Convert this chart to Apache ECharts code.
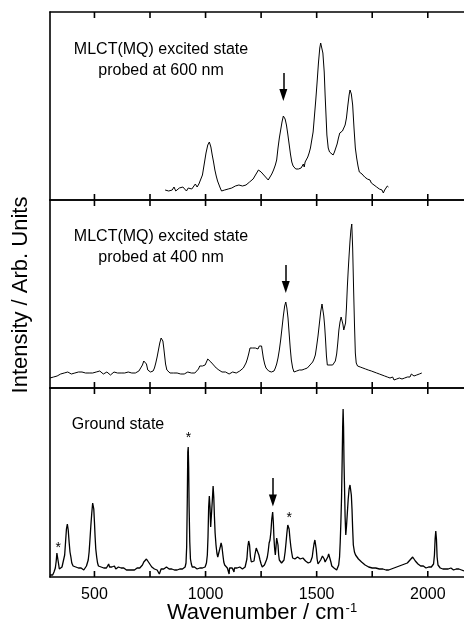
<!DOCTYPE html>
<html>
<head>
<meta charset="utf-8">
<script src="https://cdn.jsdelivr.net/npm/echarts@6/dist/echarts.min.js"></script>
<style>
html,body{margin:0;padding:0;background:#fff;}
#c{width:464px;height:633px;}
</style>
</head>
<body>
<div id="c"></div>
<script>
// ---- data ----
const xTicks = [500, 750, 1000, 1250, 1500, 1750, 2000];
const xLabels = [500, 1000, 1500, 2000];
const panelTexts = [["MLCT(MQ) excited state", "probed at 600 nm"], ["MLCT(MQ) excited state", "probed at 400 nm"], ["Ground state"]];
const xTitle = "Wavenumber / cm";
const yTitle = "Intensity / Arb. Units";

const probe600 = [
[818,10],[826,12],[834,9],[842,11],[850,10],[858,13],[866,9],[874,11],[882,12],[890,10],[898,13],[906,11],[914,9],[922,12],[930,14],[938,11],[946,13],[954,16],[962,13],[970,16],[978,18],[986,25],[994,36],[1002,47],[1010,55],[1017,58],[1024,53],[1030,45],[1036,38],[1042,30],[1048,24],[1054,19],[1060,17],[1066,12],[1072,9],[1078,8],[1086,10],[1094,9],[1102,11],[1110,10],[1118,12],[1126,11],[1134,14],[1142,12],[1150,15],[1158,16],[1166,14],[1174,16],[1182,15],[1190,17],[1198,18],[1206,19],[1214,21],[1222,24],[1230,27],[1238,30],[1244,31],[1250,28],[1258,26],[1266,24],[1274,22],[1282,20],[1290,22],[1298,26],[1306,30],[1314,35],[1320,40],[1326,52],[1332,62],[1338,70],[1344,78],[1350,84],[1354,85],[1358,81],[1364,75],[1370,66],[1376,56],[1382,46],[1388,38],[1394,34],[1400,32],[1406,31],[1412,30],[1418,31],[1424,33],[1430,32],[1436,34],[1440,36],[1444,33],[1448,38],[1454,40],[1460,43],[1466,47],[1472,52],[1478,60],[1484,68],[1490,84],[1496,100],[1502,118],[1508,137],[1514,152],[1518,157],[1522,155],[1528,147],[1534,128],[1538,105],[1542,85],[1546,65],[1552,52],[1558,48],[1566,46],[1574,45],[1580,48],[1586,52],[1592,56],[1598,62],[1604,67],[1610,68],[1616,69],[1622,71],[1628,75],[1634,82],[1640,94],[1646,105],[1650,110],[1656,106],[1662,95],[1668,72],[1674,52],[1680,42],[1686,34],[1692,28],[1698,27],[1704,26],[1710,27],[1716,23],[1722,24],[1728,21],[1734,20],[1740,20],[1746,17],[1752,17],[1758,15],[1764,16],[1770,13],[1776,13],[1782,11],[1788,11],[1794,10],[1800,7],[1806,10],[1812,11],[1818,14],[1823,13]
];

const probe400 = [
[300,10],[308,12],[316,11],[324,13],[332,12],[340,13],[348,14],[356,13],[364,15],[372,14],[380,16],[388,15],[396,14],[404,16],[412,15],[420,17],[428,16],[436,15],[444,16],[452,14],[460,15],[468,16],[476,15],[484,17],[492,15],[500,14],[508,16],[516,15],[524,17],[532,16],[540,14],[548,15],[556,16],[564,14],[572,13],[580,15],[588,16],[596,14],[604,15],[612,16],[620,15],[628,13],[636,15],[644,14],[652,16],[660,14],[668,15],[676,16],[684,15],[692,16],[700,17],[708,19],[716,23],[722,27],[728,28],[734,24],[740,18],[746,16],[752,16],[758,15],[764,17],[770,20],[776,25],[782,31],[788,38],[794,45],[800,50],[804,51],[808,47],[812,40],[816,32],[820,24],[826,18],[832,16],[840,15],[848,16],[856,15],[864,14],[872,15],[880,16],[888,14],[896,15],[904,14],[912,15],[920,16],[928,14],[936,15],[944,16],[952,15],[960,17],[968,19],[974,22],[980,24],[986,22],[992,21],[998,23],[1004,26],[1010,29],[1014,30],[1018,28],[1024,26],[1030,24],[1036,23],[1042,22],[1048,20],[1054,19],[1060,18],[1066,17],[1074,16],[1082,15],[1090,16],[1098,15],[1106,14],[1114,15],[1122,16],[1130,14],[1138,15],[1146,16],[1154,17],[1162,18],[1170,20],[1176,22],[1182,25],[1188,29],[1194,34],[1200,40],[1206,42],[1212,40],[1218,39],[1224,40],[1230,38],[1236,39],[1242,42],[1248,44],[1252,42],[1256,36],[1260,30],[1266,24],[1272,20],[1278,18],[1284,17],[1290,18],[1296,16],[1302,15],[1308,17],[1314,20],[1320,24],[1326,30],[1332,38],[1338,48],[1344,60],[1350,72],[1356,82],[1361,86],[1366,80],[1371,70],[1376,55],[1381,40],[1386,28],[1392,20],[1398,16],[1404,15],[1410,17],[1416,16],[1422,18],[1428,19],[1434,18],[1440,20],[1446,19],[1452,21],[1458,20],[1464,22],[1470,23],[1476,25],[1482,26],[1488,29],[1494,33],[1500,42],[1506,52],[1512,64],[1518,76],[1524,84],[1528,82],[1532,72],[1536,62],[1540,48],[1544,32],[1548,23],[1554,22],[1560,23],[1566,22],[1572,23],[1578,24],[1584,27],[1590,34],[1595,45],[1600,58],[1605,66],[1610,71],[1614,70],[1618,64],[1622,58],[1626,56],[1630,65],[1634,80],[1638,101],[1642,118],[1646,133],[1650,147],[1654,158],[1658,164],[1662,140],[1666,101],[1670,65],[1674,35],[1678,25],[1684,22],[1690,20],[1696,21],[1702,19],[1708,20],[1714,18],[1720,19],[1726,17],[1732,18],[1740,16],[1746,17],[1752,15],[1758,16],[1764,14],[1770,15],[1776,13],[1782,14],[1788,12],[1794,13],[1800,11],[1806,12],[1812,10],[1818,11],[1824,12],[1830,10],[1836,9],[1842,11],[1848,8],[1854,10],[1860,9],[1866,11],[1872,10],[1878,12],[1884,9],[1890,11],[1896,10],[1902,12],[1908,11],[1914,13],[1920,11],[1926,14],[1932,13],[1938,12],[1944,14],[1950,13],[1956,15],[1962,14],[1968,16],[1973,15]
];

const ground = [
[300,2],[306,3],[312,2],[318,5],[324,9],[328,16],[331,24],[334,22],[338,14],[342,8],[346,7],[350,9],[354,10],[360,12],[366,22],[370,35],[374,48],[378,53],[382,47],[386,35],[390,25],[394,20],[398,14],[404,11],[410,9],[416,10],[422,8],[428,9],[434,7],[440,9],[446,8],[452,7],[458,9],[464,11],[468,13],[472,17],[476,25],[480,38],[484,52],[488,64],[492,74],[494,75],[497,68],[500,55],[503,40],[506,28],[510,20],[514,14],[518,11],[524,9],[530,10],[536,8],[542,9],[548,7],[554,9],[560,11],[564,13],[568,10],[572,8],[578,10],[584,9],[590,11],[596,8],[602,9],[608,10],[614,8],[620,9],[626,7],[632,9],[638,8],[644,7],[650,8],[656,7],[662,9],[668,7],[674,8],[680,7],[686,8],[692,9],[698,8],[704,9],[710,10],[716,12],[722,15],[728,17],[734,18],[740,17],[746,14],[752,12],[758,10],[764,9],[770,8],[776,9],[782,7],[788,6],[792,3],[796,5],[800,8],[806,9],[812,8],[818,9],[824,10],[830,9],[836,8],[842,10],[848,8],[854,9],[860,7],[866,8],[872,7],[878,9],[884,8],[890,9],[896,8],[902,9],[908,10],[912,14],[915,30],[918,80],[920,125],[922,130],[924,110],[926,70],[929,35],[932,18],[936,13],[940,10],[945,9],[950,10],[956,9],[962,8],[968,10],[974,9],[980,8],[986,9],[992,8],[998,10],[1004,14],[1008,22],[1011,40],[1014,70],[1017,81],[1020,70],[1023,50],[1026,48],[1030,75],[1034,91],[1037,80],[1040,60],[1043,44],[1047,32],[1051,24],[1055,20],[1060,22],[1066,30],[1070,34],[1074,30],[1078,22],[1082,15],[1086,12],[1092,10],[1098,9],[1102,8],[1106,3],[1108,9],[1114,8],[1120,9],[1124,10],[1128,5],[1130,9],[1136,8],[1142,9],[1148,8],[1154,10],[1160,9],[1166,8],[1172,9],[1178,10],[1182,12],[1186,18],[1190,30],[1194,36],[1198,32],[1202,20],[1206,15],[1210,14],[1214,13],[1218,16],[1222,22],[1228,29],[1232,31],[1236,28],[1240,22],[1245,17],[1250,13],[1255,10],[1260,10],[1265,12],[1270,14],[1274,17],[1278,20],[1282,26],[1286,34],[1290,37],[1294,45],[1298,58],[1302,65],[1305,55],[1308,38],[1311,28],[1314,22],[1317,30],[1320,39],[1323,40],[1326,32],[1329,22],[1332,17],[1336,15],[1342,14],[1348,15],[1353,17],[1358,25],[1362,34],[1366,44],[1370,52],[1373,54],[1376,48],[1380,38],[1384,30],[1388,24],[1392,19],[1396,17],[1402,18],[1408,19],[1414,20],[1420,19],[1426,18],[1432,19],[1438,19],[1444,17],[1450,16],[1456,15],[1462,14],[1468,13],[1472,15],[1476,17],[1480,20],[1484,27],[1488,33],[1492,37],[1495,36],[1498,28],[1502,18],[1506,13],[1510,12],[1514,14],[1518,17],[1522,19],[1526,21],[1530,22],[1534,18],[1538,15],[1542,14],[1546,16],[1550,20],[1554,23],[1557,24],[1560,21],[1564,15],[1568,11],[1573,10],[1578,9],[1584,8],[1590,7],[1595,8],[1599,12],[1603,20],[1606,35],[1609,55],[1612,80],[1615,120],[1617,150],[1619,168],[1621,150],[1623,115],[1625,94],[1628,60],[1631,42],[1634,50],[1638,64],[1642,78],[1646,88],[1650,92],[1653,90],[1656,82],[1659,68],[1662,48],[1665,32],[1670,25],[1675,22],[1681,20],[1688,18],[1695,16],[1702,15],[1710,14],[1718,12],[1726,11],[1734,10],[1742,10],[1750,9],[1758,8],[1766,9],[1774,7],[1782,8],[1790,7],[1798,8],[1806,6],[1812,7],[1818,5],[1824,7],[1830,6],[1836,8],[1842,7],[1848,9],[1854,8],[1860,10],[1866,9],[1872,11],[1878,10],[1884,12],[1890,11],[1896,13],[1902,12],[1908,14],[1914,15],[1920,17],[1926,19],[1932,20],[1938,18],[1944,16],[1950,14],[1956,13],[1962,12],[1968,11],[1974,10],[1980,11],[1986,10],[1992,9],[1998,9],[2004,10],[2010,9],[2016,10],[2022,11],[2026,13],[2030,22],[2033,38],[2036,46],[2039,38],[2042,20],[2046,12],[2050,10],[2056,9],[2062,10],[2068,8],[2074,9],[2080,8],[2086,9],[2092,8],[2098,7],[2104,9],[2110,8],[2116,7],[2122,9],[2128,8],[2134,7],[2140,8],[2146,6],[2152,7],[2158,5],[2163,6]
];

// arrow annotations [x, yStart, yEnd] (data units)
const arrows = [[1350, 127, 105], [1361, 123, 101], [1303, 99, 76.5]];
// asterisks in ground-state panel [x, y]
const stars = [[337, 29], [923, 139], [1377, 59]];

// ---- chart ----
const FONT = "'Liberation Sans', Arial, Helvetica, sans-serif";
const chart = echarts.init(document.getElementById('c'), null, {renderer: 'canvas'});
const XMIN = 300, XMAX = 2163;
const TICK_LEN = 6;
const panels = [
  {top: 12, height: 188, ymax: 188},
  {top: 200, height: 188, ymax: 188},
  {top: 388, height: 189, ymax: 189}
];
const grid = panels.map(p => ({left: 50, right: 0, top: p.top, height: p.height, containLabel: false}));
const xAxis = [];
const yAxis = [];
panels.forEach((p, i) => {
  ['bottom', 'top'].forEach(pos => {
    const showLab = (i === 2 && pos === 'bottom');
    xAxis.push({
      type: 'value', gridIndex: i, position: pos, min: XMIN, max: XMAX,
      axisLine: {show: true, onZero: false, lineStyle: {color: '#000', width: 1.6}},
      axisTick: {show: false},
      axisLabel: showLab ? {show: true, customValues: xLabels, formatter: v => String(v), color: '#000', fontSize: 16, fontFamily: FONT, margin: 10} : {show: false},
      splitLine: {show: false}
    });
  });
  yAxis.push({
    type: 'value', gridIndex: i, min: 0, max: p.ymax,
    axisLine: {show: true, lineStyle: {color: '#000', width: 1.6}},
    axisTick: {show: false}, axisLabel: {show: false}, splitLine: {show: false}
  });
});

const specs = [probe600, probe400, ground];
const series = [];
specs.forEach((d, i) => {
  const a = arrows[i];
  const s = {
    type: 'line', xAxisIndex: i * 2, yAxisIndex: i, data: d,
    symbol: 'none', showSymbol: false, smooth: false,
    lineStyle: {color: '#000', width: i === 2 ? 1.3 : 1},
    animation: false, silent: true,
    markLine: {
      silent: true, animation: false, symbol: ['none', 'triangle'],
      label: {show: false},
      lineStyle: {color: '#000', width: 1.5, type: 'solid'},
      data: [[{coord: [a[0], a[1]], symbol: 'none'}, {coord: [a[0], a[2]], symbol: 'triangle', symbolSize: [8, 12]}]]
    }
  };
  if (i === 2) {
    s.markPoint = {
      silent: true, animation: false, symbol: 'circle', symbolSize: 0,
      label: {show: true, position: 'inside', formatter: '*', color: '#000', fontSize: 14, fontFamily: FONT},
      data: stars.map(st => ({coord: st}))
    };
  }
  series.push(s);
  // axis ticks (inward) on bottom and top edge of each panel
  const ymax = panels[i].ymax;
  const tickData = [];
  xTicks.forEach(v => { tickData.push([v, 0, 1]); tickData.push([v, ymax, -1]); });
  series.push({
    type: 'custom', coordinateSystem: 'cartesian2d', xAxisIndex: i * 2, yAxisIndex: i,
    silent: true, animation: false, clip: false,
    data: tickData,
    renderItem: (params, api) => {
      const p = api.coord([api.value(0), api.value(1)]);
      const dir = api.value(2);
      return {type: 'line', shape: {x1: p[0], y1: p[1], x2: p[0], y2: p[1] - dir * TICK_LEN},
        style: {stroke: '#000', lineWidth: 1.6}};
    }
  });
});

const textStyleBase = {fill: '#000', fontSize: 16, fontFamily: FONT, align: 'center', verticalAlign: 'middle', textAlign: 'center', textVerticalAlign: 'middle'};
const graphic = [
  {type: 'text', x: 161, y: 50, style: Object.assign({text: panelTexts[0][0]}, textStyleBase)},
  {type: 'text', x: 161, y: 71, style: Object.assign({text: panelTexts[0][1]}, textStyleBase)},
  {type: 'text', x: 161, y: 237, style: Object.assign({text: panelTexts[1][0]}, textStyleBase)},
  {type: 'text', x: 161, y: 258, style: Object.assign({text: panelTexts[1][1]}, textStyleBase)},
  {type: 'text', x: 118, y: 425, style: Object.assign({text: panelTexts[2][0]}, textStyleBase)},
  {type: 'text', x: 262, y: 613, style: {text: xTitle + '{s|-1}', fill: '#000', fontSize: 22, fontFamily: FONT, align: 'center', verticalAlign: 'middle', textAlign: 'center', textVerticalAlign: 'middle',
    rich: {s: {fontSize: 13, fontFamily: FONT, fill: '#000', verticalAlign: 'top', padding: [0, 0, 0, 1]}}}},
  {type: 'text', x: 21, y: 295, rotation: Math.PI / 2, style: {text: yTitle, fill: '#000', fontSize: 22, fontFamily: FONT, align: 'center', verticalAlign: 'middle', textAlign: 'center', textVerticalAlign: 'middle'}}
];

chart.setOption({
  backgroundColor: '#fff',
  animation: false,
  grid, xAxis, yAxis, series, graphic
});
</script>
</body>
</html>
